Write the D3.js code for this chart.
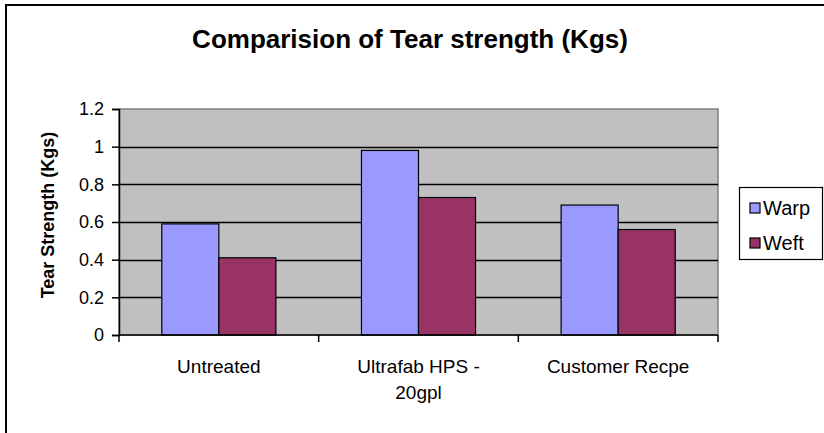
<!DOCTYPE html>
<html>
<head>
<meta charset="utf-8">
<script src="https://cdn.jsdelivr.net/npm/d3@7"></script>
<style>
  body { margin: 0; background: #fff; }
  svg { display: block; font-family: "Liberation Sans", Arial, sans-serif; }
</style>
</head>
<body>
<script>
const categories = [["Untreated"], ["Ultrafab HPS -", "20gpl"], ["Customer Recpe"]];
const seriesNames = ["Warp", "Weft"];
const warpValues = [0.59, 0.98, 0.69];
const weftValues = [0.41, 0.73, 0.56];
const yTicks = [0, 0.2, 0.4, 0.6, 0.8, 1, 1.2];
const colors = ["#9999ff", "#993366"];

const width = 824, height = 433;
const plot = { left: 119, right: 718, top: 109, bottom: 335 };

const svg = d3.select('body').append('svg')
    .attr('width', width)
    .attr('height', height);

// outer chart border (runs off the right/bottom edge)
svg.append('rect')
    .attr('x', 6).attr('y', 5)
    .attr('width', 1000).attr('height', 1000)
    .attr('fill', '#fff')
    .attr('stroke', '#000')
    .attr('stroke-width', 2);

svg.append('text')
    .attr('x', 410).attr('y', 48)
    .attr('text-anchor', 'middle')
    .attr('font-size', 26)
    .attr('font-weight', 'bold')
    .text('Comparision of Tear strength (Kgs)');

const keys = categories.map((c, i) => i);
const x = d3.scaleBand().domain(keys).range([plot.left, plot.right]).padding(0);
const xInner = d3.scaleBand().domain(seriesNames).range([0, x.bandwidth()])
    .paddingInner(0).paddingOuter(0.75);
const y = d3.scaleLinear().domain([0, 1.2]).range([plot.bottom, plot.top]);

// plot area
svg.append('rect')
    .attr('x', plot.left).attr('y', plot.top)
    .attr('width', plot.right - plot.left)
    .attr('height', plot.bottom - plot.top)
    .attr('fill', '#c0c0c0')
    .attr('stroke', '#808080')
    .attr('stroke-width', 1.5);

// gridlines
svg.append('g')
    .selectAll('line')
    .data(yTicks.filter(t => t > 0 && t < 1.2))
    .enter().append('line')
    .attr('x1', plot.left).attr('x2', plot.right)
    .attr('y1', d => Math.round(y(d)) + 0.5)
    .attr('y2', d => Math.round(y(d)) + 0.5)
    .attr('stroke', '#000')
    .attr('stroke-width', 1.5);

// bars
const data = seriesNames.map((s, si) => ({
    name: s,
    values: si === 0 ? warpValues : weftValues
}));

data.forEach((s, si) => {
    svg.append('g')
        .selectAll('rect')
        .data(s.values)
        .enter().append('rect')
        .attr('x', (d, i) => x(i) + xInner(s.name))
        .attr('y', d => y(d))
        .attr('width', xInner.bandwidth())
        .attr('height', d => y(0) - y(d))
        .attr('fill', colors[si])
        .attr('stroke', '#000')
        .attr('stroke-width', 1.2);
});

// y axis
const yAxis = svg.append('g')
    .attr('transform', `translate(${plot.left},0)`)
    .call(d3.axisLeft(y).tickValues(yTicks).tickSize(7).tickPadding(8)
        .tickFormat(d => d3.format('')(+d.toFixed(1))));
yAxis.select('.domain').attr('stroke', '#000').attr('stroke-width', 1.5);
yAxis.selectAll('line').attr('stroke', '#000').attr('stroke-width', 1.5);
yAxis.selectAll('text').attr('font-size', 18).attr('fill', '#000')
    .attr('font-family', '"Liberation Sans", Arial, sans-serif');

// x axis
const xAxis = svg.append('g')
    .attr('transform', `translate(0,${plot.bottom})`);
xAxis.append('line')
    .attr('x1', plot.left).attr('x2', plot.right)
    .attr('stroke', '#000').attr('stroke-width', 1.5);
xAxis.selectAll('.tk')
    .data(d3.range(categories.length + 1))
    .enter().append('line')
    .attr('class', 'tk')
    .attr('x1', i => plot.left + i * x.step())
    .attr('x2', i => plot.left + i * x.step())
    .attr('y1', 0).attr('y2', 7)
    .attr('stroke', '#000').attr('stroke-width', 1.5);

const labels = xAxis.selectAll('.lbl')
    .data(categories)
    .enter().append('text')
    .attr('class', 'lbl')
    .attr('text-anchor', 'middle')
    .attr('font-size', 19)
    .attr('transform', (d, i) => `translate(${x(i) + x.bandwidth() / 2},38)`);
labels.selectAll('tspan')
    .data(d => d)
    .enter().append('tspan')
    .attr('x', 0)
    .attr('dy', (d, i) => i === 0 ? 0 : 26)
    .text(d => d);

// y axis title
svg.append('text')
    .attr('transform', `translate(54,215) rotate(-90)`)
    .attr('text-anchor', 'middle')
    .attr('font-size', 18)
    .attr('font-weight', 'bold')
    .text('Tear Strength (Kgs)');

// legend
const legend = svg.append('g');
legend.append('rect')
    .attr('x', 739.5).attr('y', 187.5)
    .attr('width', 83).attr('height', 72)
    .attr('fill', '#fff')
    .attr('stroke', '#000').attr('stroke-width', 1.2);
const items = legend.selectAll('g')
    .data(seriesNames)
    .enter().append('g')
    .attr('transform', (d, i) => `translate(750,${208 + i * 35})`);
items.append('rect')
    .attr('x', 0).attr('y', -5)
    .attr('width', 10).attr('height', 10)
    .attr('fill', (d, i) => colors[i])
    .attr('stroke', '#000').attr('stroke-width', 1.2);
items.append('text')
    .attr('x', 13).attr('y', 7)
    .attr('font-size', 20)
    .text(d => d);
</script>
</body>
</html>
